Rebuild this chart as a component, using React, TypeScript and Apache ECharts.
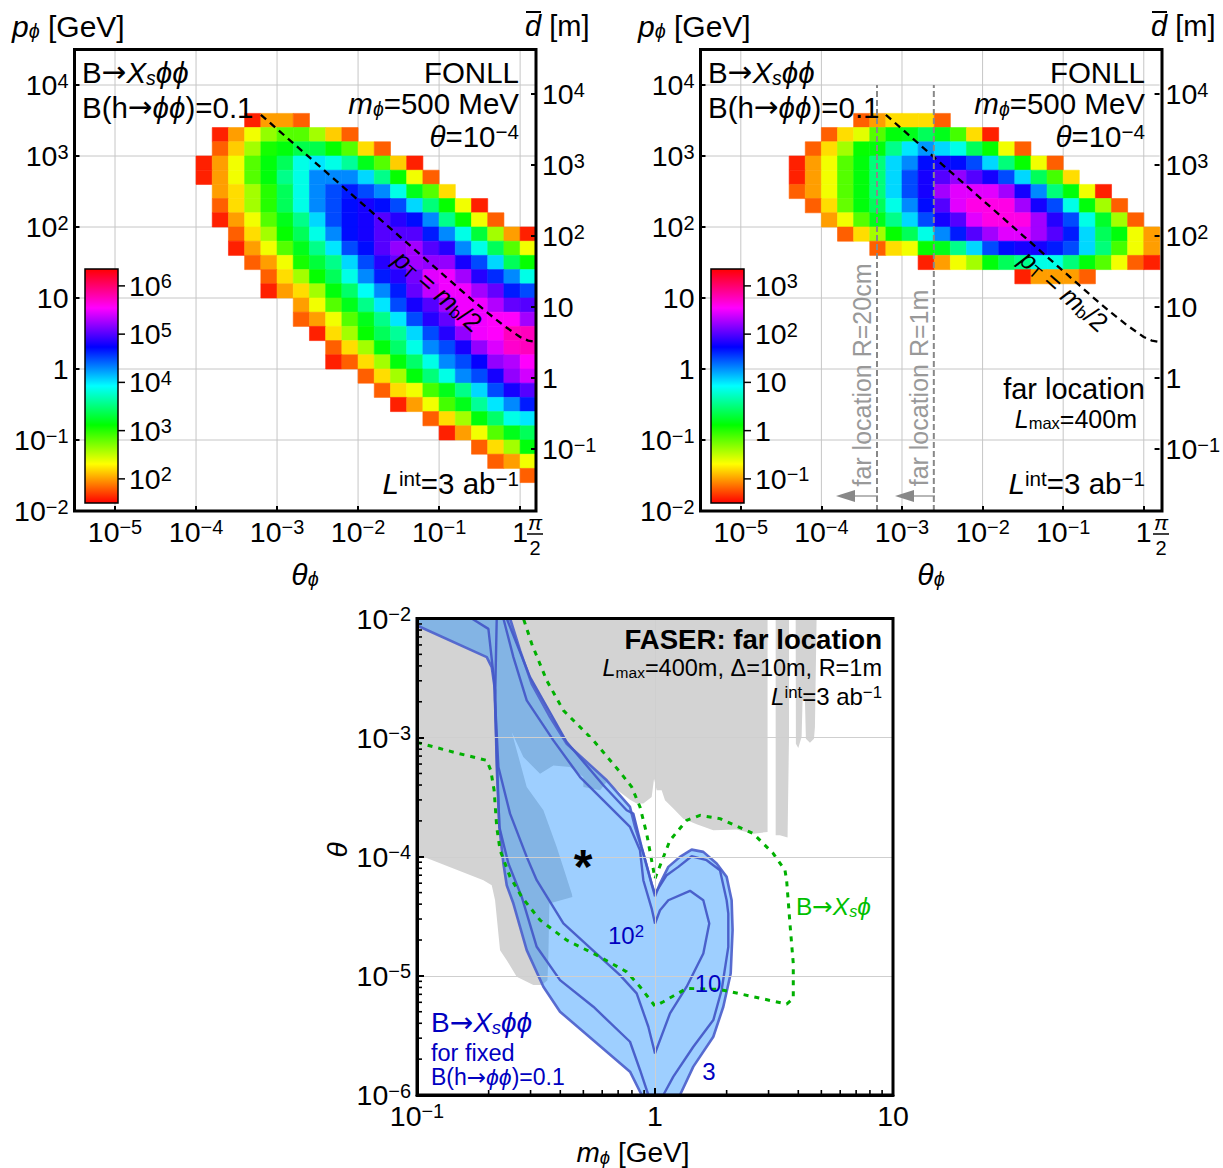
import React, { useEffect, useRef } from "react";
import * as echarts from "echarts";

const F = '"Liberation Sans", Arial, sans-serif';

// ---------- top panels: log10(events), rows of 0.2-decade cells ----------
const cellStep = 0.2;
const barSpan = 4.85;
const leftBarMin = 1.5;
const rightBarMin = -1.5;

const leftRowLow = [3.4, 3.2, 3.0, 2.8, 2.6, 2.4, 2.2, 2.0, 1.8, 1.6, 1.4, 1.2, 1.0, 0.8, 0.6, 0.4, 0.2, 0, -0.2, -0.4, -0.6, -0.8, -1.0, -1.2, -1.4, -1.6];
const leftRowStart = [-3.4, -3.8, -3.8, -4, -4, -3.8, -3.8, -3.8, -3.6, -3.6, -3.4, -3.2, -3.2, -2.8, -2.8, -2.6, -2.4, -2.4, -2, -1.8, -1.6, -1.2, -1, -0.6, -0.4, 0];
const L0 = [1.6, 2.0, 2.0, 1.8];
const L1 = [1.6, 2.0, 2.35, 2.65, 2.85, 2.85, 2.6, 2.15, 1.8];
const L2 = [1.8, 2.15, 2.6, 3.05, 3.15, 3.35, 3.35, 3.1, 2.85, 2.2, 1.8];
const L3 = [1.6, 2.0, 2.35, 2.85, 3.15, 3.4, 3.85, 4.0, 3.85, 3.6, 3.2, 2.85, 2.15, 1.6];
const L4 = [1.6, 2.0, 2.35, 2.85, 3.15, 3.55, 3.85, 4.3, 4.3, 4.3, 4.05, 3.55, 3.1, 2.35, 1.8];
const L5 = [2.0, 2.2, 2.6, 3.0, 3.4, 3.85, 4.3, 4.5, 4.65, 4.5, 4.3, 3.85, 3.2, 2.85, 2.2];
const L6 = [1.8, 2.2, 2.6, 3.0, 3.4, 3.85, 4.3, 4.5, 4.7, 4.8, 4.7, 4.5, 4.05, 3.5, 3.1, 2.35, 1.6];
const L7 = [1.6, 2.0, 2.35, 2.85, 3.2, 3.55, 4.05, 4.5, 4.7, 4.8, 5.0, 4.85, 4.7, 4.3, 3.55, 3.1, 2.35, 1.8];
const L8 = [1.8, 2.2, 2.6, 3.1, 3.4, 3.85, 4.3, 4.7, 4.8, 5.0, 5.0, 5.0, 4.65, 4.3, 3.85, 3.3, 2.6, 2.0, 1.6];
const L9 = [1.6, 2.0, 2.35, 2.85, 3.2, 3.55, 4.0, 4.5, 4.7, 5.0, 5.2, 5.25, 5.0, 4.85, 4.3, 3.85, 3.4, 2.85, 2.35];
const L10 = [1.8, 2.0, 2.35, 3.05, 3.3, 3.55, 4.05, 4.5, 4.85, 5.05, 5.25, 5.2, 5.2, 4.8, 4.5, 4.05, 3.4, 3.1];
const L11 = [1.8, 2.2, 2.6, 3.1, 3.4, 3.85, 4.3, 4.65, 4.85, 5.1, 5.45, 5.5, 5.25, 4.85, 4.6, 4.3, 3.85];
const L12 = [1.6, 2.0, 2.2, 2.6, 3.15, 3.45, 3.9, 4.3, 4.65, 5.05, 5.35, 5.5, 5.5, 5.25, 5.05, 4.65, 4.5];
const L13 = [2.0, 2.35, 2.85, 3.2, 3.55, 4.0, 4.5, 4.8, 5.0, 5.25, 5.5, 5.5, 5.3, 5.05, 5.0];
const L14 = [1.8, 2.0, 2.35, 2.85, 3.2, 3.55, 4.0, 4.5, 4.85, 5.05, 5.5, 5.5, 5.55, 5.55, 5.25];
const L15 = [1.6, 2.2, 2.6, 3.1, 3.4, 3.6, 4.05, 4.5, 4.85, 5.2, 5.5, 5.55, 5.75, 5.75];
const L16 = [1.8, 2.2, 2.6, 3.15, 3.45, 3.85, 4.3, 4.5, 4.8, 5.2, 5.43, 5.7, 5.75];
const L17 = [1.6, 1.8, 2.2, 2.6, 3.15, 3.45, 3.85, 4.3, 4.5, 4.75, 5.2, 5.3, 5.55];
const L18 = [1.8, 2.2, 2.6, 3.15, 3.5, 3.85, 4.3, 4.5, 4.8, 5.2, 5.4];
const L19 = [1.8, 2.2, 2.35, 2.9, 3.2, 3.55, 4.05, 4.5, 4.8, 5.0];
const L20 = [1.6, 2.0, 2.35, 2.9, 3.2, 3.6, 4.0, 4.3, 4.65];
const L21 = [1.8, 2.2, 2.6, 3.15, 3.45, 3.85, 4.0];
const L22 = [1.6, 2.0, 2.35, 2.85, 3.2, 3.4];
const L23 = [1.8, 2.2, 2.6, 3.15];
const L24 = [1.8, 2.0, 2.35];
const L25 = [1.8];
const leftRows = [L0, L1, L2, L3, L4, L5, L6, L7, L8, L9, L10, L11, L12, L13, L14, L15, L16, L17, L18, L19, L20, L21, L22, L23, L24, L25];

const rightRowLow = [3.4, 3.2, 3.0, 2.8, 2.6, 2.4, 2.2, 2.0, 1.8, 1.6, 1.4, 1.2];
const rightRowStart = [-3.6, -4, -4.2, -4.4, -4.4, -4.4, -4.2, -4, -3.8, -3.4, -2.8, -1.6];
const R0 = [-1.2, -1.0, -0.8, -0.8, -0.8, -1.2];
const R1 = [-1.2, -0.8, -0.6, -0.15, 0.15, 0.2, 0.4, 0.2, -0.1, -0.8, -1.4];
const R2 = [-1.2, -0.8, -0.4, 0.1, 0.15, 0.55, 1.0, 1.25, 1.05, 0.85, 0.4, 0.1, -0.65, -1.2];
const R3 = [-1.4, -1.0, -0.65, -0.15, 0.15, 0.5, 1.05, 1.3, 1.7, 1.8, 1.7, 1.5, 1.05, 0.5, 0.1, -0.65, -1.2];
const R4 = [-1.4, -1.0, -0.65, -0.15, 0.15, 0.5, 1.05, 1.5, 1.8, 2.0, 2.2, 2.0, 1.8, 1.5, 1.05, 0.4, -0.1, -0.8];
const R5 = [-1.2, -1.0, -0.65, -0.15, 0.15, 0.5, 1.05, 1.5, 1.8, 2.25, 2.45, 2.45, 2.45, 2.25, 1.8, 1.3, 0.5, 0.15, -0.65, -1.4];
const R6 = [-1.2, -0.8, -0.2, 0.15, 0.4, 0.85, 1.3, 1.7, 2.0, 2.45, 2.62, 2.62, 2.62, 2.25, 1.8, 1.5, 0.85, 0.15, -0.4, -1.2];
const R7 = [-1.0, -0.65, -0.15, 0.2, 0.55, 1.05, 1.5, 1.8, 2.0, 2.45, 2.62, 2.62, 2.62, 2.25, 1.85, 1.5, 0.85, 0.25, -0.4, -1.2];
const R8 = [-1.2, -0.8, -0.4, 0.1, 0.4, 0.85, 1.3, 1.65, 2.0, 2.25, 2.45, 2.45, 2.25, 2.0, 1.65, 1.05, 0.4, 0.15, -0.65, -1.0];
const R9 = [-1.2, -0.8, -0.65, 0.1, 0.2, 0.55, 1.05, 1.5, 1.7, 1.8, 1.8, 1.65, 1.5, 1.05, 0.5, -0.1, -0.65, -1.0];
const R10 = [-1.4, -1.0, -0.65, -0.4, 0.15, 0.4, 0.55, 0.85, 0.85, 0.5, 0.15, -0.15, -0.65, -1.2, -1.4];
const R11 = [-1.4, -1.0, -1.0, -1.0, -1.2];
const rightRows = [R0, R1, R2, R3, R4, R5, R6, R7, R8, R9, R10, R11];

const ptCurve = [[-3.2, 3.58], [-3, 3.38], [-2.5, 2.88], [-2, 2.38], [-1.5, 1.88], [-1, 1.38], [-0.8, 1.18], [-0.6, 0.98], [-0.4, 0.79], [-0.2, 0.61], [0, 0.45], [0.1, 0.4], [0.196, 0.38]];
const xDecades = [-5, -4, -3, -2, -1, 0];
const yDecades = [-2, -1, 0, 1, 2, 3, 4];
const rightDecades = [-1, 0, 1, 2, 3, 4];
const leftBarTicks = [2, 3, 4, 5, 6];
const rightBarTicks = [-1, 0, 1, 2, 3];
const R20cm = -3.31;
const R1m = -2.605;

// ---------- bottom panel: log10(m), log10(theta) ----------
const contour3 = [[-1, -2], [-0.609, -2], [-0.567, -2.268], [-0.518, -2.548], [-0.441, -2.827], [-0.371, -3.051], [-0.203, -3.358], [-0.105, -3.582], [-0.084, -3.75], [-0.049, -3.973], [-0.007, -4.281], [0, -4.331], [0.021, -4.225], [0.056, -4.085], [0.105, -4.001], [0.154, -3.94], [0.203, -3.959], [0.259, -4.057], [0.301, -4.169], [0.322, -4.365], [0.326, -4.616], [0.318, -4.98], [0.287, -5.259], [0.245, -5.511], [0.161, -5.762], [0.105, -6], [-0.056, -6], [-0.105, -5.804], [-0.399, -5.301], [-0.469, -5.091], [-0.539, -4.784], [-0.595, -4.393], [-0.623, -4.239], [-0.637, -4.057], [-0.654, -3.75], [-0.665, -3.247], [-0.672, -2.604], [-0.686, -2.408], [-0.707, -2.324], [-1, -2.059]];
const contour10 = [[-0.77, -2], [-0.7, -2.087], [-0.676, -2.52], [-0.668, -2.967], [-0.654, -3.75], [-0.616, -4.057], [-0.56, -4.337], [-0.497, -4.756], [-0.399, -5.036], [-0.259, -5.259], [-0.105, -5.553], [-0.063, -5.79], [-0.028, -6], [0.035, -6], [0.077, -5.846], [0.161, -5.595], [0.245, -5.371], [0.28, -5.119], [0.308, -4.756], [0.308, -4.477], [0.301, -4.365], [0.273, -4.113], [0.217, -4.029], [0.154, -3.996], [0.098, -4.085], [0.049, -4.155], [0, -4.309], [-0.014, -4.225], [-0.056, -3.918], [-0.091, -3.638], [-0.119, -3.61], [-0.217, -3.4], [-0.371, -3.037], [-0.525, -2.492], [-0.623, -2]];
const contour100 = [[-0.665, -2], [-0.637, -2], [-0.595, -2.324], [-0.539, -2.688], [-0.427, -3.023], [-0.315, -3.331], [-0.105, -3.75], [-0.063, -3.946], [-0.049, -4.197], [-0.014, -4.435], [0, -4.56], [0.021, -4.449], [0.056, -4.365], [0.147, -4.286], [0.203, -4.365], [0.228, -4.56], [0.203, -4.812], [0.133, -5.091], [0.063, -5.315], [0, -5.651], [-0.028, -5.427], [-0.077, -5.147], [-0.147, -4.994], [-0.231, -4.84], [-0.385, -4.56], [-0.497, -4.197], [-0.539, -4.001], [-0.609, -3.638], [-0.658, -3.247], [-0.672, -2.688], [-0.665, -2]];
const grayMain = [[-1, -2], [0.473, -2], [0.473, -3.792], [0.413, -3.806], [0.343, -3.772], [0.245, -3.778], [0.175, -3.727], [0.119, -3.68], [0.077, -3.596], [0.042, -3.526], [0.028, -3.442], [0.007, -3.442], [-0.004, -3.345], [-0.014, -3.498], [-0.049, -3.554], [-0.077, -3.554], [-0.105, -3.521], [-0.203, -3.372], [-0.231, -3.442], [-0.301, -3.414], [-0.301, -3.331], [-0.357, -3.247], [-0.427, -3.233], [-0.483, -3.303], [-0.553, -3.163], [-0.602, -2.953], [-0.539, -3.414], [-0.469, -3.61], [-0.413, -3.918], [-0.35, -4.309], [-0.347, -4.337], [-0.444, -4.393], [-0.448, -4.84], [-0.452, -5.036], [-0.476, -5.077], [-0.511, -5.077], [-0.581, -5.008], [-0.623, -4.868], [-0.651, -4.784], [-0.672, -4.365], [-0.686, -4.239], [-0.721, -4.197], [-0.973, -4.001], [-1, -3.996]];
const grayStripA = [[0.507, -2], [0.563, -2], [0.563, -3.0], [0.557, -3.839], [0.525, -3.82], [0.507, -3.82]];
const grayStripB = [[0.591, -2], [0.679, -2], [0.672, -2.911], [0.668, -3.009], [0.651, -3.043], [0.634, -3.009], [0.63, -2.688], [0.62, -2.688], [0.616, -2.995], [0.602, -3.087], [0.592, -3.051]];
const greenCurve = [[-1, -3.04], [-0.833, -3.129], [-0.707, -3.191], [-0.69, -3.275], [-0.676, -3.442], [-0.665, -3.75], [-0.651, -3.945], [-0.609, -4.169], [-0.56, -4.337], [-0.483, -4.532], [-0.371, -4.7], [-0.245, -4.826], [-0.119, -4.966], [-0.063, -5.091], [0, -5.254], [0.035, -5.217], [0.133, -5.105], [0.273, -5.114], [0.413, -5.175], [0.553, -5.237], [0.581, -5.189], [0.581, -4.896], [0.567, -4.56], [0.553, -4.197], [0.546, -4.113], [0.497, -3.973], [0.413, -3.806], [0.273, -3.68], [0.189, -3.652], [0.133, -3.694], [0.063, -3.862], [0, -4.183], [-0.035, -3.806], [-0.063, -3.582], [-0.098, -3.414], [-0.147, -3.289], [-0.259, -3.023], [-0.385, -2.771], [-0.455, -2.52], [-0.518, -2.212], [-0.553, -2]];
const bottomXTicks = [-1, 0, 1];
const bottomYTicks = [-6, -5, -4, -3, -2];
const minorMultiples = [2, 3, 4, 5, 6, 7, 8, 9];

// ---------- helpers ----------
const richFor = (f: number, color = "#000") => {
  const tok = (o: any) => ({ fontFamily: F, color, fill: color, ...o });
  return {
    n: tok({ fontSize: f }),
    b: tok({ fontSize: f, fontWeight: "bold" }),
    i: tok({ fontSize: f, fontStyle: "italic" }),
    a: tok({ fontSize: f, fontFamily: '"DejaVu Sans"' }),
    sup: tok({ fontSize: f * 0.7, verticalAlign: "top" }),
    sub: tok({ fontSize: f * 0.66, verticalAlign: "bottom" }),
    subi: tok({ fontSize: f * 0.66, fontStyle: "italic", verticalAlign: "bottom" }),
  };
};
const logLabel = (v: number) =>
  v === 0 ? "{n|1}" : v === 1 ? "{n|10}" : `{n|10}{sup|${v < 0 ? "\u2212" : ""}${Math.abs(v)}}`;

const text = (x: number, y: number, s: string, f: number, align = "left", color = "#000", rotation = 0) => ({
  type: "text",
  x,
  y,
  rotation,
  z: 100,
  silent: true,
  style: { text: s, rich: richFor(f, color), align, verticalAlign: "middle", textAlign: align, textVerticalAlign: "middle", fill: color, font: `${f}px ${F}` },
});
const gline = (x1: number, y1: number, x2: number, y2: number, stroke = "#000", lineWidth = 1.5) => ({
  type: "line",
  z: 100,
  silent: true,
  shape: { x1, y1, x2, y2 },
  style: { stroke, lineWidth },
});
const frame = (x: number, y: number, w: number, h: number) => ({
  type: "rect",
  z: 90,
  silent: true,
  shape: { x, y, width: w, height: h },
  style: { fill: "none", stroke: "#000", lineWidth: 3 },
});

const hueColor = (v: number, vmin: number) => `hsl(${Math.max(0, ((v - vmin) / barSpan) * 360)},100%,50%)`;

const cellsSeries = (grid: number, yIdx: number, rows: number[][], low: number[], start: number[], vmin: number) => {
  const data: number[][] = [];
  rows.forEach((r, i) => r.forEach((v, j) => data.push([start[i] + j * cellStep, low[i], v])));
  return {
    type: "custom",
    xAxisIndex: grid,
    yAxisIndex: yIdx,
    clip: true,
    silent: true,
    z: 3,
    encode: { x: 0, y: 1 },
    data,
    renderItem: (_p: any, api: any) => {
      const a = api.coord([api.value(0), api.value(1)]);
      const b = api.coord([api.value(0) + cellStep, api.value(1) + cellStep]);
      const c = hueColor(api.value(2), vmin);
      return { type: "rect", shape: { x: a[0], y: b[1], width: b[0] - a[0], height: a[1] - b[1] }, style: { fill: c, stroke: c, lineWidth: 0.6 } };
    },
  };
};
const ruleSeries = (grid: number, yIdx: number, xs: number[], ys: number[]) => ({
  type: "custom",
  xAxisIndex: grid,
  yAxisIndex: yIdx,
  silent: true,
  clip: true,
  z: 1,
  data: [[xs[0], ys[0]]],
  encode: { x: 0, y: 1 },
  renderItem: (p: any, api: any) => {
    const c = p.coordSys;
    const children: any[] = [];
    xs.forEach((v) => {
      const q = api.coord([v, ys[0]]);
      children.push({ type: "line", shape: { x1: q[0], y1: c.y, x2: q[0], y2: c.y + c.height }, style: { stroke: "#c6c6c6", lineWidth: 1 } });
    });
    ys.forEach((v) => {
      const q = api.coord([xs[0], v]);
      children.push({ type: "line", shape: { x1: c.x, y1: q[1], x2: c.x + c.width, y2: q[1] }, style: { stroke: "#c6c6c6", lineWidth: 1 } });
    });
    return { type: "group", children };
  },
});
const lineSeries = (grid: number, yIdx: number, data: number[][], color: string, width: number, dash: any, z = 6) => ({
  type: "line",
  xAxisIndex: grid,
  yAxisIndex: yIdx,
  data,
  showSymbol: false,
  silent: true,
  clip: true,
  z,
  lineStyle: { color, width, type: dash },
});
const polySeries = (data: number[][], fill: string, z: number) => ({
  type: "custom",
  xAxisIndex: 2,
  yAxisIndex: 4,
  silent: true,
  clip: true,
  z,
  encode: { x: 0, y: 1 },
  data,
  renderItem: (p: any, api: any) =>
    p.dataIndex === 0
      ? { type: "polygon", shape: { points: data.map((d) => api.coord(d)) }, style: { fill } }
      : null,
});
const minorSeries = (axis: "x" | "y", decades: number[]) => {
  const vals: number[] = [];
  decades.forEach((d) => minorMultiples.forEach((m) => vals.push(d + Math.log10(m))));
  return {
    type: "custom",
    xAxisIndex: 2,
    yAxisIndex: 4,
    silent: true,
    z: 20,
    data: vals.map((v) => (axis === "x" ? [v, -6] : [-1, v])),
    encode: { x: 0, y: 1 },
    renderItem: (_p: any, api: any) => {
      const a = api.coord([api.value(0), api.value(1)]);
      return axis === "x"
        ? { type: "line", shape: { x1: a[0], y1: a[1], x2: a[0], y2: a[1] - 5 }, style: { stroke: "#000", lineWidth: 1.6 } }
        : { type: "line", shape: { x1: a[0], y1: a[1], x2: a[0] + 5, y2: a[1] }, style: { stroke: "#000", lineWidth: 1.6 } };
    },
  };
};

const TICK_FONT = 28.5;
const NOTE_FONT = 29.5;
const axisLabelBase = (f: number, margin: number, custom?: number[]) => ({
  show: true,
  margin,
  formatter: logLabel,
  rich: richFor(f),
  ...(custom ? { customValues: custom } : {}),
  hideOverlap: false,
  showMinLabel: true,
  showMaxLabel: true,
});
const tickBase = (custom?: number[], length = 5) => ({
  show: true,
  inside: true,
  length,
  lineStyle: { color: "#000", width: 2 },
  ...(custom ? { customValues: custom } : {}),
});
const hiddenLine = { show: false, onZero: false };
const thickLine = { show: true, onZero: false, lineStyle: { color: "#000", width: 3 } };

// texts for a top panel, dx = panel offset
const topPanelGraphics = (dx: number, barTicks: number[], barMin: number) => {
  const barY = (v: number) => 503 - ((v - barMin) / barSpan) * 234;
  const stops = Array.from({ length: 13 }, (_, i) => ({ offset: i / 12, color: `hsl(${i * 30},100%,50%)` }));
  const items: any[] = [
    frame(dx + 74.5, 49.5, 461.5, 461.5),
    text(dx + 12, 26, "{i|p}{subi|\u03d5}{n| [GeV]}", 30),
    text(dx + 525, 26, "{i|d}{n| [m]}", 29),
    gline(dx + 526, 12, dx + 541, 12, "#000", 2),
    text(dx + 305, 574, "{i|\u03b8}{subi|\u03d5}", 30, "center"),
    text(dx + 82, 72, "{n|B}{a|\u2192}{i|X}{subi|s}{i|\u03d5\u03d5}", NOTE_FONT),
    text(dx + 82, 107, "{n|B(h}{a|\u2192}{i|\u03d5\u03d5}{n|)=0.1}", NOTE_FONT),
    text(dx + 519, 72, "{n|FONLL}", NOTE_FONT, "right"),
    text(dx + 519, 103, "{i|m}{subi|\u03d5}{n|=500 MeV}", NOTE_FONT, "right"),
    text(dx + 519, 136, "{i|\u03b8}{n|=10}{sup|\u22124}", NOTE_FONT, "right"),
    text(dx + 519, 483, "{i|L}{sup|int}{n|=3 ab}{sup|\u22121}", NOTE_FONT, "right"),
    text(dx + 438, 291, "{i|p}{sub|T}{n| = }{i|m}{sub|b}{n|/2}", 26, "center", "#000", -0.72),
    text(dx + 535, 522, "{i|\u03c0}", 21, "center"),
    gline(dx + 527, 534, dx + 543, 534, "#000", 1.5),
    text(dx + 535, 548, "{n|2}", 20, "center"),
    {
      type: "rect",
      z: 95,
      silent: true,
      shape: { x: dx + 85, y: 269, width: 33, height: 234 },
      style: { fill: new echarts.graphic.LinearGradient(0, 1, 0, 0, stops), stroke: "#000", lineWidth: 1.5 },
    },
  ];
  barTicks.forEach((t) => {
    items.push(gline(dx + 118, barY(t), dx + 125, barY(t), "#000", 1.5));
    items.push(text(dx + 129, barY(t), logLabel(t), TICK_FONT));
  });
  return items;
};

export default function App() {
  const ref = useRef<HTMLDivElement>(null);
  useEffect(() => {
    const chart = echarts.init(ref.current!, undefined, { renderer: "svg" });
    const topX = (grid: number) => ({
      type: "value",
      gridIndex: grid,
      min: -5.5,
      max: 0.196,
      axisLine: hiddenLine,
      splitLine: { show: false },
      axisTick: tickBase(xDecades),
      axisLabel: axisLabelBase(TICK_FONT, 6, xDecades),
      z: 10,
    });
    const topY = (grid: number) => ({
      type: "value",
      gridIndex: grid,
      min: -2,
      max: 4.5,
      axisLine: hiddenLine,
      splitLine: { show: false },
      axisTick: tickBase(yDecades),
      axisLabel: axisLabelBase(TICK_FONT, 6, yDecades),
      z: 10,
    });
    const topYRight = (grid: number) => ({
      type: "value",
      gridIndex: grid,
      position: "right",
      min: -1.873,
      max: 4.627,
      axisLine: hiddenLine,
      splitLine: { show: false },
      axisTick: tickBase(rightDecades),
      axisLabel: axisLabelBase(TICK_FONT, 6, rightDecades),
      z: 10,
    });

    const graphics: any[] = [
      ...topPanelGraphics(0, leftBarTicks, leftBarMin),
      ...topPanelGraphics(626, rightBarTicks, rightBarMin),
      text(626 + 519, 389, "{n|far location}", 29, "right"),
      text(626 + 511, 419, "{i|L}{sub|max}{n|=400m}", 25, "right"),
      text(862, 375, "{n|far location R=20cm}", 25, "center", "#999", Math.PI / 2),
      text(919, 388, "{n|far location R=1m}", 25, "center", "#999", Math.PI / 2),
      gline(878, 496, 850, 496, "#888", 1.2),
      gline(935, 496, 908, 496, "#888", 1.2),
      { type: "polygon", z: 100, silent: true, shape: { points: [[836, 496], [855, 490], [855, 502]] }, style: { fill: "#888" } },
      { type: "polygon", z: 100, silent: true, shape: { points: [[895, 496], [914, 490], [914, 502]] }, style: { fill: "#888" } },
      frame(417, 618.5, 476, 476.5),
      text(882, 639, "{b|FASER: far location}", 27.6, "right"),
      text(882, 668, "{i|L}{sub|max}{n|=400m, \u0394=10m, R=1m}", 23.5, "right"),
      text(882, 696, "{i|L}{sup|int}{n|=3 ab}{sup|\u22121}", 24, "right"),
      text(583, 866, "{b|*}", 48, "center"),
      text(337, 850, "{i|\u03b8}", 28, "center", "#000", Math.PI / 2),
      text(633, 1152, "{i|m}{subi|\u03d5}{n| [GeV]}", 28, "center"),
      text(626, 935, "{n|10}{sup|2}", 24, "center", "#0000c0"),
      text(708, 983, "{n|10}", 24, "center", "#0000c0"),
      text(709, 1071, "{n|3}", 24, "center", "#0000c0"),
      text(431, 1022, "{n|B}{a|\u2192}{i|X}{subi|s}{i|\u03d5\u03d5}", 28, "left", "#0000c0"),
      text(431, 1053, "{n|for fixed}", 23.5, "left", "#0000c0"),
      text(431, 1077, "{n|B(h}{a|\u2192}{i|\u03d5\u03d5}{n|)=0.1}", 23, "left", "#0000c0"),
      text(796, 906, "{n|B}{a|\u2192}{i|X}{subi|s}{i|\u03d5}", 24.5, "left", "#00c000"),
    ];

    chart.setOption({
      animation: false,
      backgroundColor: "#fff",
      grid: [
        { left: 74.5, top: 49.5, width: 461.5, height: 461.5, containLabel: false },
        { left: 700.5, top: 49.5, width: 461.5, height: 461.5, containLabel: false },
        { left: 417, top: 618.5, width: 476, height: 476.5, containLabel: false },
      ],
      xAxis: [
        topX(0),
        topX(1),
        {
          type: "value",
          gridIndex: 2,
          min: -1,
          max: 1,
          interval: 1,
          axisLine: thickLine,
          splitLine: { show: true, lineStyle: { color: "#cfcfcf", width: 1 } },
          axisTick: tickBase(undefined, 7),
          axisLabel: axisLabelBase(TICK_FONT, 6, bottomXTicks),
          z: 10,
        },
      ],
      yAxis: [
        topY(0),
        topYRight(0),
        topY(1),
        topYRight(1),
        {
          type: "value",
          gridIndex: 2,
          min: -6,
          max: -2,
          interval: 1,
          axisLine: thickLine,
          splitLine: { show: true, lineStyle: { color: "#cfcfcf", width: 1 } },
          axisTick: tickBase(undefined, 7),
          axisLabel: axisLabelBase(TICK_FONT, 6, bottomYTicks),
          z: 10,
        },
      ],
      series: [
        ruleSeries(0, 0, xDecades, yDecades),
        ruleSeries(1, 2, xDecades, yDecades),
        cellsSeries(0, 0, leftRows, leftRowLow, leftRowStart, leftBarMin),
        cellsSeries(1, 2, rightRows, rightRowLow, rightRowStart, rightBarMin),
        lineSeries(0, 0, ptCurve, "#000", 2.3, [7, 5]),
        lineSeries(1, 2, ptCurve, "#000", 2.3, [7, 5]),
        lineSeries(1, 2, [[R20cm, -2], [R20cm, 4]], "#888", 2, [6, 3]),
        lineSeries(1, 2, [[R1m, -2], [R1m, 4]], "#888", 2, [6, 3]),
        polySeries(grayMain, "#d3d3d3", 2),
        polySeries(grayStripA, "#d3d3d3", 2),
        polySeries(grayStripB, "#d3d3d3", 2),
        polySeries(contour3, "rgba(0,130,255,0.38)", 3),
        lineSeries(2, 4, contour3.slice(1), "rgba(80,100,205,0.95)", 2.6, "solid", 5),
        lineSeries(2, 4, contour10, "rgba(70,90,200,0.95)", 2.4, "solid", 5),
        lineSeries(2, 4, contour100, "rgba(70,90,200,0.95)", 2.4, "solid", 5),
        lineSeries(2, 4, greenCurve, "#00b000", 3, [5, 6], 7),
        minorSeries("x", [-1, 0]),
        minorSeries("y", [-6, -5, -4, -3]),
      ],
      graphic: { elements: graphics },
    });
    return () => chart.dispose();
  }, []);
  return <div ref={ref} style={{ position: "absolute", left: 0, top: 0, width: 1223, height: 1168 }} />;
}
